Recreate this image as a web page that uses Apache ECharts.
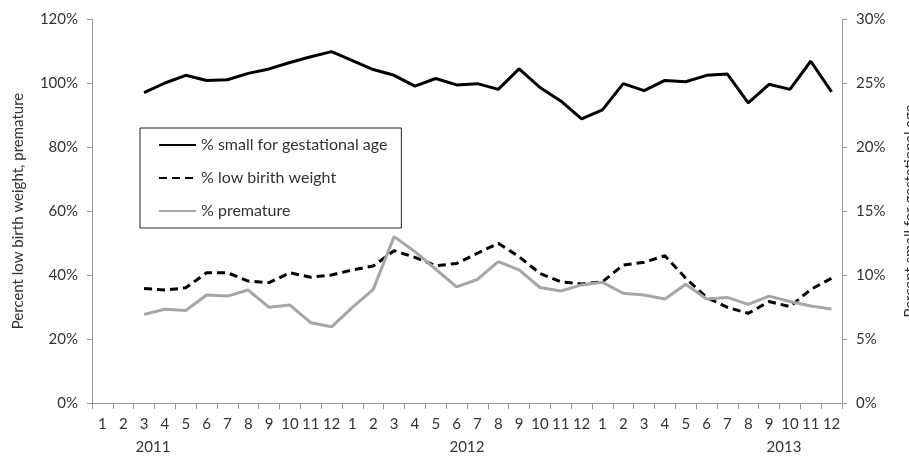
<!DOCTYPE html>
<html>
<head>
<meta charset="utf-8">
<script src="https://cdn.jsdelivr.net/npm/echarts@6/dist/echarts.min.js"></script>
<style>
  html, body { margin: 0; padding: 0; background: #fff; }
  #chart { width: 909px; height: 461px; }
</style>
</head>
<body>
<div id="chart"></div>
<script>
// Month-by-month labels, three years of 1..12
const months = ['1','2','3','4','5','6','7','8','9','10','11','12',
                '1','2','3','4','5','6','7','8','9','10','11','12',
                '1','2','3','4','5','6','7','8','9','10','11','12'];
const years = ['2011', '2012', '2013'];

// % small for gestational age (right axis)
const smallForAge = [null, null, 24.25, 25.0, 25.6, 25.2, 25.25, 25.75, 26.1, 26.6, 27.05, 27.45,
                     26.75, 26.05, 25.6, 24.75, 25.35, 24.85, 24.95, 24.5, 26.1, 24.65, 23.6, 22.2,
                     22.9, 24.95, 24.4, 25.2, 25.1, 25.6, 25.7, 23.45, 24.9, 24.5, 26.7, 24.3];

// % low birth weight (left axis)
const lowBirthWeight = [null, null, 35.8, 35.3, 36.0, 40.7, 40.7, 38.1, 37.6, 40.7, 39.3, 40.0,
                        41.6, 42.8, 47.6, 45.5, 42.9, 43.6, 46.8, 49.9, 45.7, 40.5, 37.9, 37.2,
                        37.9, 43.1, 44.0, 46.0, 39.0, 33.0, 29.9, 28.0, 31.7, 30.1, 35.5, 39.0];

// % premature (left axis)
const premature = [null, null, 27.7, 29.3, 28.9, 33.75, 33.4, 35.3, 29.9, 30.6, 25.1, 23.8,
                   29.9, 35.5, 52.0, 47.3, 41.8, 36.3, 38.6, 44.2, 41.6, 36.1, 35.0, 36.9,
                   37.7, 34.3, 33.75, 32.5, 37.1, 32.5, 33.0, 30.8, 33.4, 31.7, 30.3, 29.4];

const FONT = 'Lato';
const TEXT = '#333';
const AXIS = '#999';

// horizontal centres of the year captions under the month row
const yearX = [153, 467, 784];

const chart = echarts.init(document.getElementById('chart'), null, { renderer: 'canvas' });

chart.setOption({
  animation: false,
  textStyle: { fontFamily: FONT },
  // fixed plot box; the right-hand axis title is allowed to run off the edge
  grid: { left: 92, right: 67, top: 19, bottom: 58, outerBoundsMode: 'none', containLabel: false },
  legend: {
    orient: 'vertical',
    left: 140,
    top: 128,
    borderColor: '#222',
    borderWidth: 1,
    padding: [9, 14, 9, 18],
    itemWidth: 37,
    itemHeight: 14,
    itemGap: 17,
    // plain line samples, no point markers
    itemStyle: { opacity: 0 },
    textStyle: { fontFamily: FONT, fontSize: 16, color: TEXT },
    data: ['% small for gestational age', '% low birith weight', '% premature']
  },
  xAxis: {
    type: 'category',
    data: months,
    boundaryGap: true,
    axisLine: { lineStyle: { color: AXIS, width: 1 } },
    axisTick: { show: true, interval: 0, length: 6, lineStyle: { color: AXIS } },
    axisLabel: { interval: 0, margin: 14, fontFamily: FONT, fontSize: 15, color: TEXT }
  },
  yAxis: [
    {
      type: 'value',
      min: 0, max: 120, interval: 20,
      position: 'left',
      name: 'Percent low birth weight, premature',
      nameLocation: 'middle',
      nameRotate: 90,
      nameGap: 66,
      nameTextStyle: { fontFamily: FONT, fontSize: 15, color: TEXT },
      splitLine: { show: false },
      axisLine: { show: true, lineStyle: { color: AXIS, width: 1 } },
      axisTick: { show: true, length: 5, lineStyle: { color: AXIS } },
      axisLabel: { formatter: '{value}%', margin: 14, fontFamily: FONT, fontSize: 15, color: TEXT }
    },
    {
      type: 'value',
      min: 0, max: 30, interval: 5,
      position: 'right',
      name: 'Percent small for gestational age',
      nameLocation: 'middle',
      nameRotate: 90,
      nameGap: 61,
      nameTextStyle: { fontFamily: FONT, fontSize: 15, color: TEXT },
      splitLine: { show: false },
      axisLine: { show: true, lineStyle: { color: AXIS, width: 1 } },
      axisTick: { show: true, length: 5, lineStyle: { color: AXIS } },
      axisLabel: { formatter: '{value}%', margin: 14, fontFamily: FONT, fontSize: 15, color: TEXT }
    }
  ],
  series: [
    {
      name: '% small for gestational age',
      type: 'line',
      yAxisIndex: 1,
      data: smallForAge,
      symbol: 'none',
      lineStyle: { color: '#000', width: 3 },
      itemStyle: { color: '#000' }
    },
    {
      name: '% low birith weight',
      type: 'line',
      yAxisIndex: 0,
      data: lowBirthWeight,
      symbol: 'none',
      lineStyle: { color: '#000', width: 3, type: [8, 5] },
      itemStyle: { color: '#000' }
    },
    {
      name: '% premature',
      type: 'line',
      yAxisIndex: 0,
      data: premature,
      symbol: 'none',
      lineStyle: { color: '#a6a6a6', width: 3 },
      itemStyle: { color: '#a6a6a6' }
    }
  ],
  graphic: years.map((y, i) => ({
    type: 'text',
    x: yearX[i],
    y: 447,
    style: {
      text: y,
      fontFamily: FONT,
      fontSize: 15,
      fill: TEXT,
      align: 'center',
      verticalAlign: 'middle'
    }
  }))
});
</script>
</body>
</html>
